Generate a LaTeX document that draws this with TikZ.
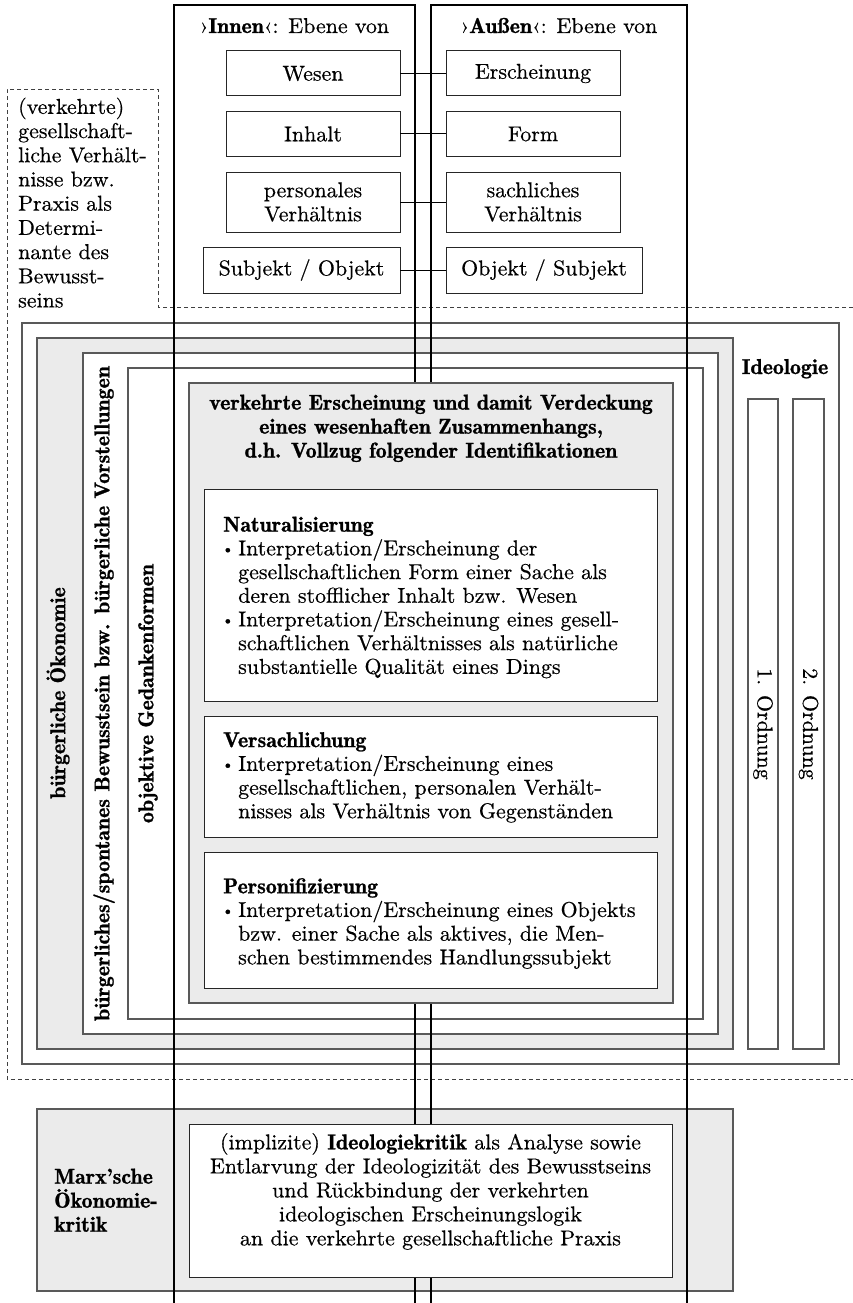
\documentclass[tikz,border=0pt]{standalone}
\DeclareFontFamily{TU}{lmx}{}
\DeclareFontShape{TU}{lmx}{m}{n}{<-> "[lmroman10-regular]:+tlig;extend=1.02;embolden=0.5;"}{}
\DeclareFontShape{TU}{lmx}{b}{n}{<-> "[lmromandemi10-regular]:+tlig;extend=1.02;embolden=1.1;"}{}
\DeclareFontShape{TU}{lmx}{bx}{n}{<-> ssub * lmx/b/n}{}
\renewcommand\rmdefault{lmx}
\newcommand\dmb[1]{{\fontseries{b}\selectfont #1}}
\newcommand\bul{\makebox[15pt][l]{\hspace{-1.5pt}\raisebox{1.5pt}{\scalebox{0.72}{\textbullet}}}}
\newcommand\ind{\hspace*{15pt}}
\begin{document}
\begin{tikzpicture}[x=1pt,y=-1pt,
  every node/.style={font=\fontsize{21.5}{24}\selectfont},
  frame/.style={draw=black!65, line width=1.2pt, inner sep=0pt, outer sep=0pt},
  gbox/.style={frame, fill=black!8},
  wbox/.style={frame, fill=white},
  ibox/.style={draw=black!85, line width=1pt, fill=white, inner sep=0pt, outer sep=0pt},
  sbox/.style={draw=black!85, line width=1pt, fill=white, inner sep=0pt, outer sep=0pt, align=center},
  col/.style={draw=black, line width=1.2pt},
  link/.style={draw=black, line width=1pt},
  dashbox/.style={draw=black!75, line width=0.8pt, dash pattern=on 4pt off 3pt},
  lbl/.style={inner sep=0pt, align=left},
  bodyfont/.style={font=\fontsize{21.5}{23.7}\selectfont},
]
\useasboundingbox (0,0) rectangle (852,1303);
\fill[white] (0,0) rectangle (852,1303);

% dashed region
\coordinate (d1) at (853,307);
\coordinate (d2) at (158,307);
\coordinate (d3) at (158,89);
\coordinate (d4) at (7,89);
\coordinate (d5) at (7,1079);
\coordinate (d6) at (853,1079);
\draw[dashbox] (d1) -- (d2) -- (d3) -- (d4) -- (d5) -- (d6);
\node[lbl, anchor=north west, font=\fontsize{21.5}{24.2}\selectfont] (dtext) at (18,97.5)
  {(verkehrte)\\gesellschaft-\\liche Verhält-\\nisse bzw.\\Praxis als\\Determi-\\nante des\\Bewusst-\\seins};

% nested frames
\node[wbox, minimum width=817pt, minimum height=741pt] (ideo) at (430.5,693.5) {};
\node[gbox, minimum width=696pt, minimum height=711pt] (oek) at (385,693.5) {};
\node[wbox, minimum width=635pt, minimum height=681pt] (bew) at (400.5,693.5) {};
\node[wbox, minimum width=575pt, minimum height=651pt] (obj) at (415.5,693.5) {};
\node[wbox, minimum width=30pt, minimum height=650pt] (ord1) at (763,724) {};
\node[wbox, minimum width=31pt, minimum height=650pt] (ord2) at (808.5,724) {};
\node[gbox, minimum width=696pt, minimum height=182pt] (marx) at (385,1200) {};

% columns
\coordinate (iBL) at (174,1310);
\coordinate (iTL) at (174,5);
\coordinate (iTR) at (415,5);
\coordinate (iBR) at (415,1310);
\coordinate (aBL) at (431,1310);
\coordinate (aTL) at (431,5);
\coordinate (aTR) at (687,5);
\coordinate (aBR) at (687,1310);
\draw[col] (iBL) -- (iTL) -- (iTR) -- (iBR);
\draw[col] (aBL) -- (aTL) -- (aTR) -- (aBR);

% central box
\node[gbox, minimum width=484pt, minimum height=620pt] (verk) at (431,693) {};
\node[ibox, minimum width=453pt, minimum height=212pt] (nat) at (430.5,595) {};
\node[ibox, minimum width=453pt, minimum height=121pt] (vers) at (430.5,776.5) {};
\node[ibox, minimum width=453pt, minimum height=136pt] (pers) at (430.5,920) {};
\node[ibox, minimum width=483pt, minimum height=153pt] (marxin) at (430.5,1200.5) {};

% labels of frames
\node[anchor=base] (tid) at (785,374) {\dmb{Ideologie}};
\node[rotate=90, inner sep=0pt] (toek) at (58,693) {\dmb{bürgerliche Ökonomie}};
\node[rotate=90, inner sep=0pt] (tbew) at (104,693.5) {\dmb{bürgerliches/spontanes Bewusstsein bzw. bürgerliche Vorstellungen}};
\node[rotate=90, inner sep=0pt] (tobj) at (148,693.5) {\dmb{objektive Gedankenformen}};
\node[rotate=-90, inner sep=0pt] (to1) at (763,724) {1. Ordnung};
\node[rotate=-90, inner sep=0pt] (to2) at (808.5,724) {2. Ordnung};

\node[anchor=north, align=center, inner sep=0pt, font=\fontsize{21.5}{24}\fontseries{b}\selectfont] (tverk) at (431,394.5)
  {verkehrte Erscheinung und damit Verdeckung\\eines wesenhaften Zusammenhangs,\\d.h. Vollzug folgender Identifikationen};

\node[lbl, anchor=north west, bodyfont] (tnat) at (223,516.5)
  {\dmb{Naturalisierung}\\\bul Interpretation/Erscheinung der\\\ind gesellschaftlichen Form einer Sache als\\\ind deren stofflicher Inhalt bzw. Wesen\\\bul Interpretation/Erscheinung eines gesell-\\\ind schaftlichen Verhältnisses als natürliche\\\ind substantielle Qualität eines Dings};
\node[lbl, anchor=north west, bodyfont] (tvers) at (223,732)
  {\dmb{Versachlichung}\\\bul Interpretation/Erscheinung eines\\\ind gesellschaftlichen, personalen Verhält-\\\ind nisses als Verhältnis von Gegenständen};
\node[lbl, anchor=north west, bodyfont] (tpers) at (223,878)
  {\dmb{Personifizierung}\\\bul Interpretation/Erscheinung eines Objekts\\\ind bzw. einer Sache als aktives, die Men-\\\ind schen bestimmendes Handlungssubjekt};

\node[lbl, anchor=north west, font=\fontsize{21.5}{24}\fontseries{b}\selectfont] (tmarx) at (54,1168.5)
  {Marx’sche\\Ökonomie-\\kritik};
\node[anchor=north, align=center, inner sep=0pt] (tkrit) at (430.5,1133)
  {(implizite) \dmb{Ideologiekritik} als Analyse sowie\\Entlarvung der Ideologizität des Bewusstseins\\und Rückbindung der verkehrten\\ideologischen Erscheinungslogik\\an die verkehrte gesellschaftliche Praxis};

% column headers
\node[anchor=base] (hin) at (294.5,33) {›\dmb{Innen}‹: Ebene von};
\node[anchor=base] (hau) at (559,33) {›\dmb{Außen}‹: Ebene von};

% paired boxes
\node[sbox, minimum width=174pt, minimum height=45pt] (wesen) at (313,73.5) {Wesen};
\node[sbox, minimum width=174pt, minimum height=44pt] (inhalt) at (313,134) {Inhalt};
\node[sbox, minimum width=174pt, minimum height=60pt] (persv) at (313,202) {personales\\Verhältnis};
\node[sbox, minimum width=197pt, minimum height=46pt] (subj) at (301.5,270) {Subjekt / Objekt};
\node[sbox, minimum width=174pt, minimum height=45pt] (ersch) at (533,73.5) {Erscheinung};
\node[sbox, minimum width=174pt, minimum height=44pt] (form) at (533,134) {Form};
\node[sbox, minimum width=174pt, minimum height=60pt] (sachv) at (533,202) {sachliches\\Verhältnis};
\node[sbox, minimum width=196pt, minimum height=46pt] (objs) at (544,270) {Objekt / Subjekt};

\draw[link] (wesen.east) -- (ersch.west);
\draw[link] (inhalt.east) -- (form.west);
\draw[link] (persv.east) -- (sachv.west);
\draw[link] (subj.east) -- (objs.west);
\end{tikzpicture}
\end{document}
